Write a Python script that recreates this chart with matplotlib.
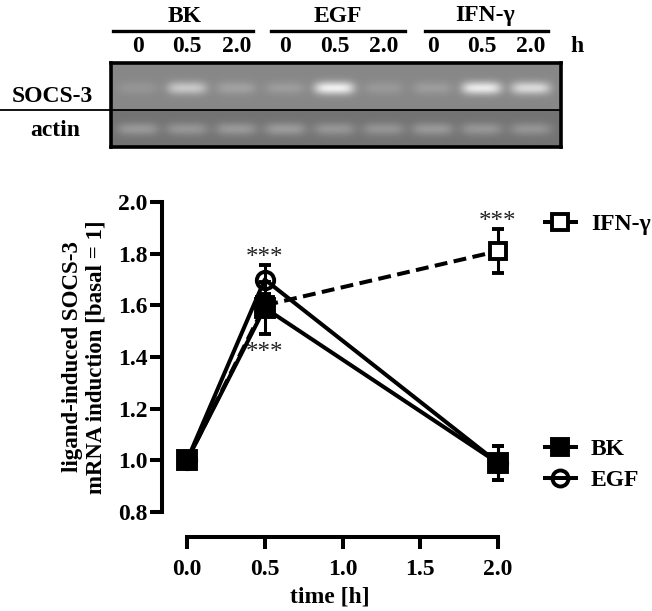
import numpy as np
import matplotlib
matplotlib.use("Agg")
import matplotlib.pyplot as plt
from matplotlib.lines import Line2D

plt.rcParams['font.family'] = ['Liberation Serif', 'DejaVu Serif']
plt.rcParams['font.weight'] = 'bold'

# ---------------- data ----------------
time_h = [0.0, 0.5, 2.0]
bk_mean = [1.00, 1.59, 0.99]
bk_err = [0.0, 0.10, 0.065]
egf_mean = [1.00, 1.70, 0.99]
egf_err = [0.0, 0.055, 0.065]
ifn_mean = [1.00, 1.60, 1.81]
ifn_err = [0.0, 0.04, 0.085]

x_ticks = [0.0, 0.5, 1.0, 1.5, 2.0]
y_ticks = [0.8, 1.0, 1.2, 1.4, 1.6, 1.8, 2.0]

gel_groups = ['BK', 'EGF', 'IFN-γ']
gel_times = ['0', '0.5', '2.0']
socs_band = [0.12, 0.55, 0.22, 0.18, 0.90, 0.15, 0.18, 0.85, 0.70]
actin_band = [0.45, 0.42, 0.45, 0.48, 0.42, 0.40, 0.45, 0.42, 0.40]

# ---------------- figure ----------------
W, H = 652, 611
fig = plt.figure(figsize=(W / 100, H / 100), dpi=100)


def fx(px):
    return px / W


def fy(py):
    return 1 - py / H


# ---------- gel panel ----------
gl, gr, gt, gb, gdiv = 111, 561, 63, 147, 110
gw, gh = gr - gl, gb - gt
gax = fig.add_axes([fx(gl), fy(gb), gw / W, gh / H])
ys = np.arange(gh)[:, None] + 0.5
xs = np.arange(gw)[None, :] + 0.5
img = np.where(ys < (gdiv - gt), 0.53, 0.45) * np.ones((gh, gw))
lane_c = [27 + 49.1 * i for i in range(9)]
for i, c in enumerate(lane_c):
    px = np.exp(-((xs - c) / 20.0) ** 4)
    py = np.exp(-((ys - 25) / 6.5) ** 2)
    img = img + socs_band[i] * 0.45 * px * py
    pxa = np.exp(-((xs - c) / 21.0) ** 4)
    pya = np.exp(-((ys - 66) / 6.5) ** 2)
    img = img + actin_band[i] * 0.32 * pxa * pya
gax.imshow(img, cmap='gray', vmin=0, vmax=1, extent=[0, gw, gh, 0],
           aspect='auto', interpolation='bilinear')
gax.set_xlim(0, gw)
gax.set_ylim(gh, 0)
gax.set_xticks([])
gax.set_yticks([])
for s in gax.spines.values():
    s.set_linewidth(2.6)
    s.set_color('black')
fig.add_artist(Line2D([0, fx(gl)], [fy(gdiv), fy(gdiv)], color='black', lw=1.3))
gax.axhline(gdiv - gt, color='black', lw=1.3)

fs = 17
fig.text(fx(52), fy(97), 'SOCS-3', ha='center', va='center', fontsize=fs)
fig.text(fx(55), fy(130), 'actin', ha='center', va='center', fontsize=fs)

group_x = [185, 338, 485]
group_lines = [(113, 253), (271, 405), (425, 548)]
for g, gx_, (a, b) in zip(gel_groups, group_x, group_lines):
    fig.text(fx(gx_), fy(16), g, ha='center', va='center', fontsize=fs)
    fig.add_artist(Line2D([fx(a), fx(b)], [fy(31), fy(31)], color='black', lw=2.4))
for i, c in enumerate(lane_c):
    fig.text(fx(gl + c), fy(47), gel_times[i % 3], ha='center', va='center', fontsize=fs)
fig.text(fx(577), fy(47), 'h', ha='center', va='center', fontsize=fs)

# ---------- main plot ----------
ax_l, ax_r, ax_t, ax_b = 162, 498, 202, 537
x0px, x2px = 187, 498
pxu = (x2px - x0px) / 2.0
y2px, y08px = 202, 512
pyu = (y08px - y2px) / 1.2
xmin = 0 + (ax_l - x0px) / pxu
ymin = 0.8 - (ax_b - y08px) / pyu
ax = fig.add_axes([fx(ax_l), fy(ax_b), (ax_r - ax_l) / W, (ax_b - ax_t) / H])
ax.set_xlim(xmin, 2.0)
ax.set_ylim(ymin, 2.0)
for s in ['top', 'right']:
    ax.spines[s].set_visible(False)
for s in ['left', 'bottom']:
    ax.spines[s].set_linewidth(2.9)
ax.spines['left'].set_bounds(0.8, 2.0)
ax.spines['bottom'].set_bounds(0.0, 2.0)
ax.set_xticks(x_ticks)
ax.set_xticklabels([f'{v:.1f}' for v in x_ticks])
ax.set_yticks(y_ticks)
ax.set_yticklabels([f'{v:.1f}' for v in y_ticks])
ax.tick_params(axis='both', width=2.9, length=8.5, labelsize=17)
ax.tick_params(axis='y', pad=2)
ax.tick_params(axis='x', pad=7)
for t in ax.get_xticklabels() + ax.get_yticklabels():
    t.set_fontweight('bold')

lw = 2.9
ms = 12.5
mew = 2.8
ekw = dict(elinewidth=2.2, capsize=4.5, capthick=2.2, ecolor='black')
ax.errorbar(time_h, ifn_mean, yerr=ifn_err, color='black', lw=lw, ls=(0, (3.2, 1.6)),
            marker='s', ms=ms - 0.5, mfc='white', mec='black', mew=mew, clip_on=False,
            zorder=3, **ekw)
ax.errorbar(time_h, egf_mean, yerr=egf_err, color='black', lw=lw, marker='o', ms=ms,
            mfc='none', mec='black', mew=mew, clip_on=False, zorder=4, **ekw)
ax.errorbar(time_h, bk_mean, yerr=bk_err, color='black', lw=lw, marker='s', ms=ms,
            mfc='black', mec='black', mew=mew, clip_on=False, zorder=5, **ekw)
# closed circle overlay at 2.0 (BK & EGF coincide)
ax.plot([time_h[2]], [egf_mean[2]], marker='o', ms=ms + 1, color='black', clip_on=False, zorder=6)

star_kw = dict(ha='center', va='center', fontsize=18, fontweight='normal', color='#222222',
               textcoords='offset points', annotation_clip=False)
ax.annotate('***', (time_h[1], egf_mean[1] + egf_err[1]), xytext=(0, 5), **star_kw)
ax.annotate('***', (time_h[1], bk_mean[1] - bk_err[1]), xytext=(0, -14), **star_kw)
ax.annotate('***', (time_h[2], ifn_mean[2] + ifn_err[2]), xytext=(0, 5), **star_kw)

ax.set_xlabel('time [h]', fontsize=17, fontweight='bold', labelpad=5)
fig.text(fx(84), fy(357), 'ligand-induced SOCS-3\nmRNA induction [basal = 1]',
         rotation=90, ha='center', va='center', fontsize=16.5, fontweight='bold',
         multialignment='center', linespacing=1.15)

# legends
h_ifn = Line2D([], [], color='black', lw=lw, marker='s', ms=11.5, mfc='white', mec='black', mew=mew)
h_bk = Line2D([], [], color='black', lw=lw, marker='s', ms=11.5, mfc='black', mec='black', mew=mew)
h_egf = Line2D([], [], color='black', lw=lw, marker='o', ms=11.5, mfc='none', mec='black', mew=mew)
leg1 = fig.legend([h_ifn], ['IFN-γ'], loc='center left', bbox_to_anchor=(fx(545), fy(224)),
                  frameon=False, fontsize=17, handlelength=1.3, handletextpad=0.65,
                  borderpad=0, borderaxespad=0)
leg2 = fig.legend([h_bk, h_egf], ['BK', 'EGF'], loc='center left',
                  bbox_to_anchor=(fx(545), fy(465)), frameon=False, fontsize=17,
                  handlelength=1.3, handletextpad=0.65, borderpad=0, borderaxespad=0,
                  labelspacing=0.4)

fig.savefig('out.png', dpi=100)
